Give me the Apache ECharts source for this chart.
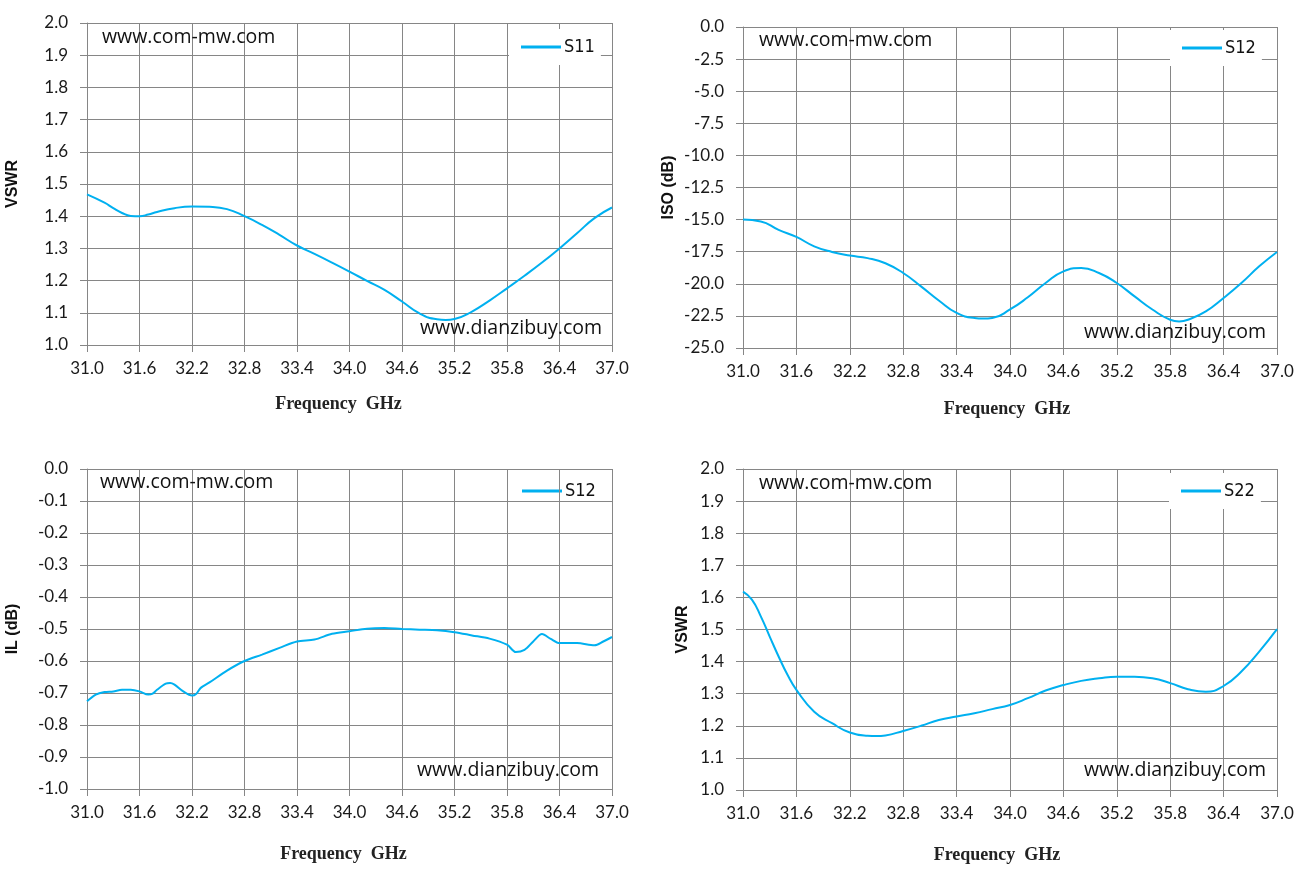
<!DOCTYPE html>
<html>
<head>
<meta charset="utf-8">
<title>S-parameters 31-37 GHz</title>
<script src="https://cdn.jsdelivr.net/npm/echarts@6/dist/echarts.min.js"></script>
<style>
    html, body { margin: 0; padding: 0; background: #fff; }
    #chart { width: 1304px; height: 872px; }
</style>
</head>
<body>
<div id="chart"></div>
<script>
// frequency ticks, GHz
var freqTicks = [31.0, 31.6, 32.2, 32.8, 33.4, 34.0, 34.6, 35.2, 35.8, 36.4, 37.0];

// S11 VSWR (top left)
var s11Freq = [31.0, 31.2, 31.3, 31.4, 31.5, 31.6, 31.7, 31.8, 32.0, 32.2, 32.4, 32.6, 32.8, 33.0, 33.2, 33.4, 33.6, 33.8,
    34.0, 34.2, 34.4, 34.6, 34.8, 35.0, 35.1, 35.2, 35.4, 35.6, 35.8, 36.0, 36.2, 36.4, 36.6, 36.8, 37.0];
var s11Vswr = [1.468, 1.442, 1.425, 1.41, 1.401, 1.40, 1.405, 1.413, 1.425, 1.43, 1.429, 1.422, 1.40, 1.373, 1.342, 1.309, 1.283, 1.256,
    1.228, 1.199, 1.171, 1.135, 1.098, 1.08, 1.078, 1.081, 1.104, 1.138, 1.176, 1.215, 1.256, 1.30, 1.347, 1.394, 1.427];

// S12 isolation (top right)
var isoFreq = [31.0, 31.2, 31.4, 31.6, 31.8, 32.0, 32.2, 32.4, 32.6, 32.8, 33.0, 33.2, 33.4, 33.6, 33.7, 33.8,
    34.0, 34.2, 34.4, 34.6, 34.8, 35.0, 35.2, 35.4, 35.6, 35.8, 35.9, 36.0, 36.2, 36.4, 36.6, 36.8, 37.0];
var isoDb = [-15.0, -15.14, -15.8, -16.35, -17.08, -17.52, -17.8, -18.0, -18.4, -19.16, -20.2, -21.3, -22.27, -22.66, -22.7, -22.66,
    -22.0, -21.05, -19.94, -19.03, -18.77, -19.16, -19.94, -20.98, -22.0, -22.8, -22.93, -22.8, -22.15, -21.1, -19.94, -18.64, -17.52];

// S12 insertion loss (bottom left)
var ilFreq = [31.0, 31.1, 31.2, 31.3, 31.4, 31.5, 31.6, 31.7, 31.75, 31.8, 31.9, 31.95, 32.0, 32.1, 32.2, 32.25, 32.3, 32.4,
    32.6, 32.8, 33.0, 33.2, 33.4, 33.6, 33.8, 34.0, 34.2, 34.4, 34.6, 34.8, 35.0, 35.2, 35.4, 35.6, 35.8, 35.9,
    36.0, 36.1, 36.2, 36.3, 36.4, 36.6, 36.8, 36.9, 37.0];
var ilDb = [-0.726, -0.705, -0.697, -0.695, -0.69, -0.69, -0.695, -0.705, -0.702, -0.69, -0.671, -0.669, -0.674, -0.695, -0.708, -0.702, -0.684, -0.667,
    -0.63, -0.60, -0.58, -0.559, -0.539, -0.533, -0.515, -0.507, -0.499, -0.497, -0.50, -0.502, -0.504, -0.51, -0.52, -0.53, -0.549, -0.572,
    -0.565, -0.539, -0.516, -0.531, -0.544, -0.544, -0.551, -0.539, -0.525];

// S22 VSWR (bottom right)
var s22Freq = [31.0, 31.1, 31.2, 31.3, 31.4, 31.5, 31.6, 31.8, 32.0, 32.2, 32.4, 32.5, 32.6, 32.8, 33.0, 33.2, 33.4, 33.6, 33.8,
    34.0, 34.2, 34.4, 34.6, 34.8, 35.0, 35.2, 35.4, 35.6, 35.8, 36.0, 36.2, 36.4, 36.6, 36.8, 37.0];
var s22Vswr = [1.618, 1.593, 1.541, 1.478, 1.416, 1.359, 1.312, 1.244, 1.208, 1.179, 1.169, 1.168, 1.17, 1.184, 1.2, 1.218, 1.229, 1.239, 1.252,
    1.265, 1.286, 1.31, 1.327, 1.34, 1.348, 1.353, 1.353, 1.348, 1.333, 1.314, 1.306, 1.324, 1.369, 1.431, 1.501];

var lineColor = '#00B0F0';
var gridColor = '#868686';
var tickFont = 'Lato, "Noto Sans", sans-serif';
var legendFont = '18px "Liberation Sans Narrow", "DejaVu Sans Condensed", sans-serif';

function pairs(xs, ys) {
    let out = [];
    for (let i = 0; i < xs.length; i++) {
        out.push([xs[i], ys[i]]);
    }
    return out;
}

function makeX(idx, nameGap, namePad) {
    return {
        type: 'value',
        gridIndex: idx,
        min: 31.0,
        max: 37.0,
        interval: 0.6,
        name: 'Frequency  GHz',
        nameLocation: 'middle',
        nameGap: nameGap,
        nameTextStyle: {
            fontFamily: '"Liberation Serif", "DejaVu Serif", serif',
            fontWeight: 'bold',
            fontSize: 18,
            color: '#222',
            padding: namePad
        },
        axisLine: { onZero: false, lineStyle: { color: gridColor, width: 1 } },
        axisTick: { show: true, length: 7, lineStyle: { color: gridColor } },
        axisLabel: {
            margin: 15,
            fontFamily: tickFont,
            fontSize: 17,
            color: '#1a1a1a',
            formatter: function (v) { return v.toFixed(1); }
        },
        splitLine: { show: true, lineStyle: { color: gridColor, width: 1 } }
    };
}

function makeY(idx, min, max, interval, name, nameGap) {
    return {
        type: 'value',
        gridIndex: idx,
        min: min,
        max: max,
        interval: interval,
        name: name,
        nameLocation: 'middle',
        nameGap: nameGap,
        nameTextStyle: {
            fontFamily: '"Liberation Sans", Arial, sans-serif',
            fontWeight: 'bold',
            fontSize: 16,
            color: '#111'
        },
        axisLine: { show: true, lineStyle: { color: gridColor, width: 1 } },
        axisTick: { show: true, length: 7, lineStyle: { color: gridColor } },
        axisLabel: {
            margin: 19,
            fontFamily: tickFont,
            fontSize: 17,
            color: '#1a1a1a',
            formatter: function (v) { return v.toFixed(1); }
        },
        splitLine: { show: true, lineStyle: { color: gridColor, width: 1 } }
    };
}

function makeLegend(name, left, top) {
    return {
        data: [name],
        left: left,
        top: top,
        orient: 'horizontal',
        backgroundColor: '#fff',
        padding: [9, 6, 9, 12],
        itemWidth: 40,
        itemHeight: 3,
        itemGap: 0,
        icon: 'rect',
        selectedMode: false,
        textStyle: {
            fontFamily: '"Liberation Sans Narrow", "DejaVu Sans Condensed", sans-serif',
            fontSize: 18,
            color: '#111',
            padding: [0, 0, 0, -2]
        }
    };
}

function makeSeries(name, idx, data, smooth) {
    return {
        name: name,
        type: 'line',
        xAxisIndex: idx,
        yAxisIndex: idx,
        data: data,
        smooth: smooth,
        showSymbol: false,
        symbol: 'none',
        lineStyle: { color: lineColor, width: 2 },
        itemStyle: { color: lineColor },
        z: 3
    };
}

function mark(text, left, top) {
    return {
        type: 'text',
        left: left,
        top: top,
        z: 10,
        style: {
            text: text,
            fill: '#111',
            font: '19.5px "Open Sans", "Noto Sans", sans-serif'
        }
    };
}

let myChart = echarts.init(document.getElementById('chart'));
let option = {
    backgroundColor: '#fff',
    animation: false,
    grid: [
        { left: 87, top: 23, width: 525, height: 322 },
        { left: 743, top: 27, width: 534, height: 321 },
        { left: 87, top: 469, width: 525, height: 320 },
        { left: 743, top: 469, width: 534, height: 321 }
    ],
    xAxis: [
        makeX(0, 50, [0, 22, 0, 0]),
        makeX(1, 52, [0, 6, 0, 0]),
        makeX(2, 56, [0, 12, 0, 0]),
        makeX(3, 56, [0, 26, 0, 0])
    ],
    yAxis: [
        makeY(0, 1.0, 2.0, 0.1, 'VSWR', 66),
        makeY(1, -25, 0, 2.5, 'ISO (dB)', 66),
        makeY(2, -1.0, 0, 0.1, 'IL (dB)', 66),
        makeY(3, 1.0, 2.0, 0.1, 'VSWR', 52)
    ],
    legend: [
        makeLegend('S11', 509, 29),
        makeLegend('S12', 1170, 30),
        makeLegend('S22', 1169, 473)
    ],
    series: [
        makeSeries('S11', 0, pairs(s11Freq, s11Vswr), true),
        makeSeries('S12', 1, pairs(isoFreq, isoDb), true),
        makeSeries('S12', 2, pairs(ilFreq, ilDb), 0.3),
        makeSeries('S22', 3, pairs(s22Freq, s22Vswr), true)
    ],
    graphic: [
        mark('www.com-mw.com', 102, 27),
        mark('www.dianzibuy.com', 420, 318),
        mark('www.com-mw.com', 759, 30),
        mark('www.dianzibuy.com', 1084, 322),
        mark('www.com-mw.com', 100, 472),
        mark('www.dianzibuy.com', 417, 760),
        mark('www.com-mw.com', 759, 473),
        mark('www.dianzibuy.com', 1084, 760),
        {
            // second S12 legend box (bottom left)
            type: 'group',
            left: 510,
            top: 473,
            z: 10,
            children: [
                { type: 'rect', shape: { x: 0, y: 0, width: 89, height: 37 }, style: { fill: '#fff' } },
                { type: 'line', shape: { x1: 12, y1: 18, x2: 52, y2: 18 }, style: { stroke: lineColor, lineWidth: 3 } },
                {
                    type: 'text', x: 55, y: 18,
                    style: { text: 'S12', fill: '#111', verticalAlign: 'middle', font: legendFont }
                }
            ]
        }
    ]
};
myChart.setOption(option);
</script>
</body>
</html>
